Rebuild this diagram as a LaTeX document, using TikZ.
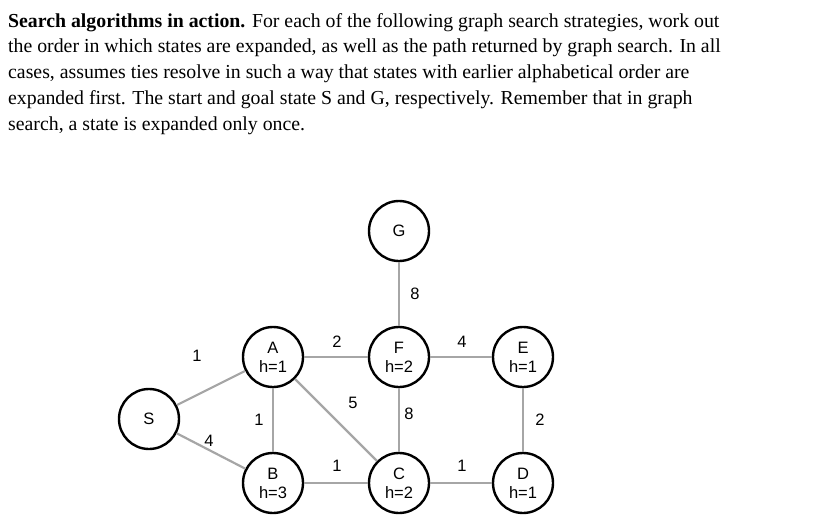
\documentclass[tikz,border=0pt]{standalone}
\usepackage{fontspec}
\setmainfont{Liberation Serif}
\newfontfamily\lsans{Liberation Sans}
\begin{document}
\begin{tikzpicture}[x=1pt,y=-1pt,
  st/.style={circle,draw=black,line width=2.4pt,minimum size=60pt,inner sep=0pt,align=center,font=\lsans\fontsize{16.5}{19}\selectfont},
  ed/.style={draw=black!35,line width=2.2pt},
  wl/.style={font=\lsans\fontsize{16.5}{18}\selectfont}]
\useasboundingbox (0,0) rectangle (817,522);
\node[anchor=north west,align=left,inner sep=0pt,font=\fontsize{19.8}{25.8}\selectfont] (txt) at (8,13)
{\textbf{Search algorithms in action.} For each of the following graph search strategies, work out\\
the order in which states are expanded, as well as the path returned by graph search. In all\\
cases, assumes ties resolve in such a way that states with earlier alphabetical order are\\
expanded first. The start and goal state S and G, respectively. Remember that in graph\\
search, a state is expanded only once.};
\node[st] (S) at (149,419) {S};
\node[st] (A) at (273,357) {A\\h=1};
\node[st] (B) at (273,483) {B\\h=3};
\node[st] (F) at (399,357) {F\\h=2};
\node[st] (C) at (399,483) {C\\h=2};
\node[st] (E) at (523,357) {E\\h=1};
\node[st] (D) at (523,483) {D\\h=1};
\node[st] (G) at (399,231) {G};
\draw[ed] (S) -- (A); \draw[ed] (S) -- (B);
\draw[ed] (A) -- (B); \draw[ed] (A) -- (F); \draw[ed] (A) -- (C);
\draw[ed] (B) -- (C); \draw[ed] (F) -- (C); \draw[ed] (F) -- (E);
\draw[ed] (C) -- (D); \draw[ed] (E) -- (D); \draw[ed] (G) -- (F);
\node[wl] (w1) at (197,356) {1};
\node[wl] (w2) at (209,441) {4};
\node[wl] (w3) at (259,420) {1};
\node[wl] (w4) at (337,342) {2};
\node[wl] (w5) at (353,403) {5};
\node[wl] (w6) at (337,466) {1};
\node[wl] (w7) at (415,294) {8};
\node[wl] (w8) at (409,414) {8};
\node[wl] (w9) at (462,342) {4};
\node[wl] (w10) at (462,466) {1};
\node[wl] (w11) at (540,420) {2};
\end{tikzpicture}
\end{document}
